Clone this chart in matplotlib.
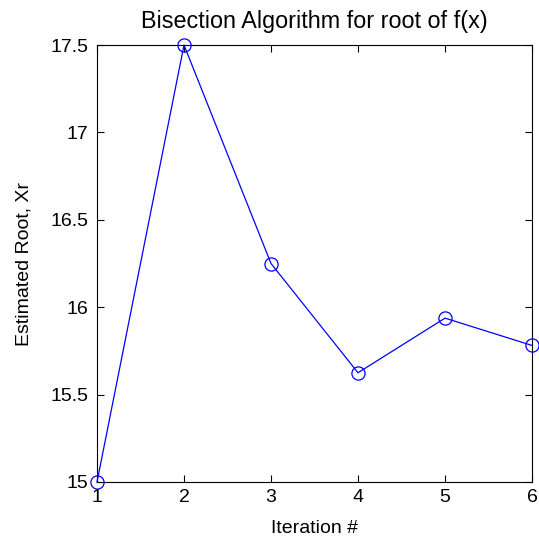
import matplotlib.pyplot as plt

iterations = [1, 2, 3, 4, 5, 6]
xr = [15.0, 17.5, 16.25, 15.625, 15.9375, 15.78125]
yticks = [15, 15.5, 16, 16.5, 17, 17.5]
ytick_labels = ["15", "15.5", "16", "16.5", "17", "17.5"]

plt.rcParams['font.family'] = ['Liberation Sans', 'DejaVu Sans']
plt.rcParams['font.size'] = 14

fig = plt.figure(figsize=(5.39, 5.40), dpi=100)
ax = fig.add_axes([97 / 539, 1 - 482 / 540, (532 - 97) / 539, (482 - 45) / 540])

ax.plot(iterations, xr, color="blue", linestyle="-", linewidth=0.9,
        marker="o", markersize=9.5, markerfacecolor="none", markeredgecolor="blue",
        markeredgewidth=0.9, clip_on=False, zorder=3)

ax.set_xlim(1, 6)
ax.set_ylim(15, 17.5)
ax.set_xticks(iterations)
ax.set_yticks(yticks)
ax.set_yticklabels(ytick_labels)
ax.tick_params(direction="in", top=True, right=True, length=5, width=0.8)
ax.tick_params(axis="x", pad=5)
ax.tick_params(axis="y", pad=6)
for s in ax.spines.values():
    s.set_linewidth(0.8)

ax.set_title("Bisection Algorithm for root of f(x)", pad=12)
ax.set_xlabel("Iteration #", labelpad=10)
ax.set_ylabel("Estimated Root, Xr", labelpad=13)

fig.savefig("out.png", dpi=100)
